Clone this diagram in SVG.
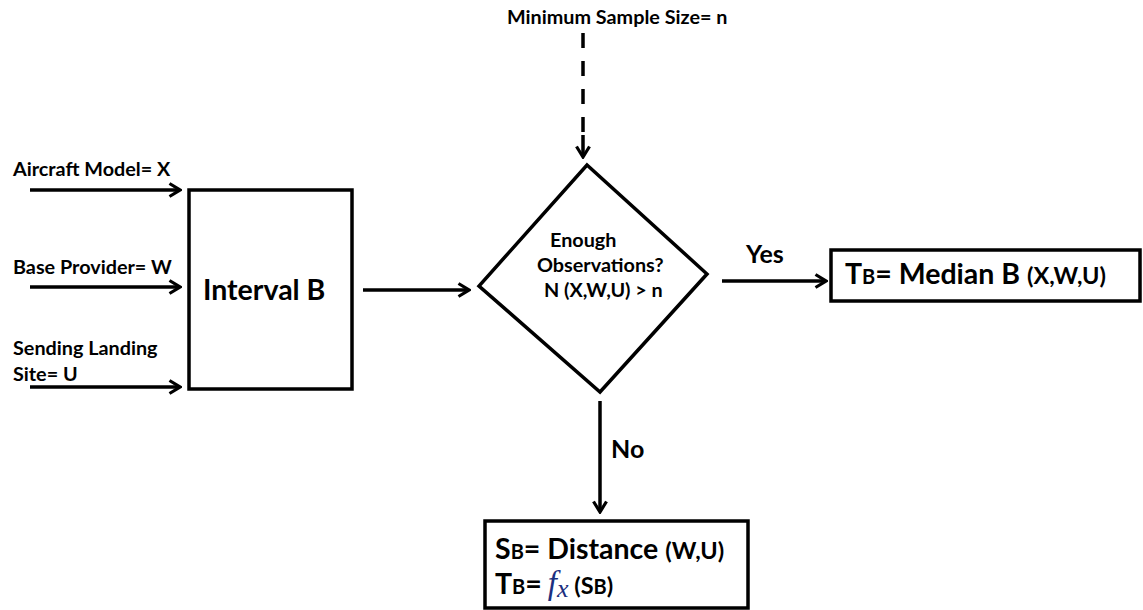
<svg xmlns="http://www.w3.org/2000/svg" width="1143" height="610" viewBox="0 0 1143 610">
<style>
  text { font-family: Lato, "Liberation Sans", sans-serif; font-weight: bold; fill: #000; }
  .lbl { font-size: 19.8px; }
  .yn { font-size: 25px; }
  .big { font-size: 28.5px; }
  .sub { font-size: 20px; }
  .mid { font-size: 23.5px; }
  .box { fill: #fff; stroke: #000; stroke-width: 3.5; }
  .conn { stroke: #000; stroke-width: 3.5; fill: none; }
  .math { font-family: "Liberation Serif", "DejaVu Serif", serif; font-style: italic; font-weight: normal; fill: #1b2f80; }
</style>
<defs>
  <marker id="arr" markerUnits="userSpaceOnUse" viewBox="0 0 14 16" markerWidth="14" markerHeight="16" refX="12" refY="8" orient="auto">
    <path d="M1.5,1.5 L12,8 L1.5,14.5" fill="none" stroke="#000" stroke-width="3.2"/>
  </marker>
</defs>
<rect width="1143" height="610" fill="#fff"/>

<g id="connectors">
  <line class="conn" x1="30" y1="190" x2="180" y2="190" marker-end="url(#arr)"/>
  <line class="conn" x1="30" y1="287" x2="180" y2="287" marker-end="url(#arr)"/>
  <line class="conn" x1="30" y1="387" x2="180" y2="387" marker-end="url(#arr)"/>
  <line class="conn" x1="363" y1="290" x2="469" y2="290" marker-end="url(#arr)"/>
  <line class="conn" x1="722" y1="281" x2="826" y2="281" marker-end="url(#arr)"/>
  <line class="conn" x1="600" y1="401" x2="600" y2="512" marker-end="url(#arr)"/>
  <line class="conn" x1="583" y1="33" x2="583" y2="135" stroke-width="4" stroke-dasharray="15 13"/>
  <line class="conn" x1="583" y1="135" x2="583" y2="157" stroke="none" marker-end="url(#arr)"/>
  <text class="yn" x="746" y="263">Yes</text>
  <text class="yn" x="611" y="458">No</text>
</g>

<g id="input-x"><text class="lbl" x="13" y="176">Aircraft Model= X</text></g>
<g id="input-w"><text class="lbl" x="13" y="274">Base Provider= W</text></g>
<g id="input-u">
  <text class="lbl" x="13" y="355">Sending Landing</text>
  <text class="lbl" x="13" y="381">Site= U</text>
</g>
<g id="min-sample"><text class="lbl" x="507" y="24">Minimum Sample Size= n</text></g>

<g id="interval-b">
  <rect class="box" x="189" y="190" width="163" height="199"/>
  <text class="big" x="203" y="300">Interval B</text>
</g>

<g id="decision">
  <polygon class="box" points="587,165 707,274 600,392 479,286"/>
  <text class="lbl" x="550" y="247">Enough</text>
  <text class="lbl" x="537" y="272">Observations?</text>
  <text class="lbl" x="544" y="297">N (X,W,U) &gt; n</text>
</g>

<g id="median">
  <rect class="box" x="831" y="250" width="309" height="51"/>
  <text x="845" y="284"><tspan class="big">T</tspan><tspan class="sub">B</tspan><tspan class="big">= Median B </tspan><tspan class="mid">(X,W,U)</tspan></text>
</g>

<g id="distance">
  <rect class="box" x="485" y="521" width="263" height="87"/>
  <text x="495" y="559"><tspan class="big">S</tspan><tspan class="sub">B</tspan><tspan class="big">= Distance </tspan><tspan class="mid">(W,U)</tspan></text>
  <text x="495" y="594"><tspan class="big">T</tspan><tspan class="sub">B</tspan><tspan class="big">=</tspan><tspan class="math" font-size="33" dx="6">f</tspan><tspan class="math" font-size="26" dy="3">x</tspan><tspan class="mid" dy="-3"> (S</tspan><tspan class="sub">B</tspan><tspan class="mid">)</tspan></text>
</g>
</svg>
